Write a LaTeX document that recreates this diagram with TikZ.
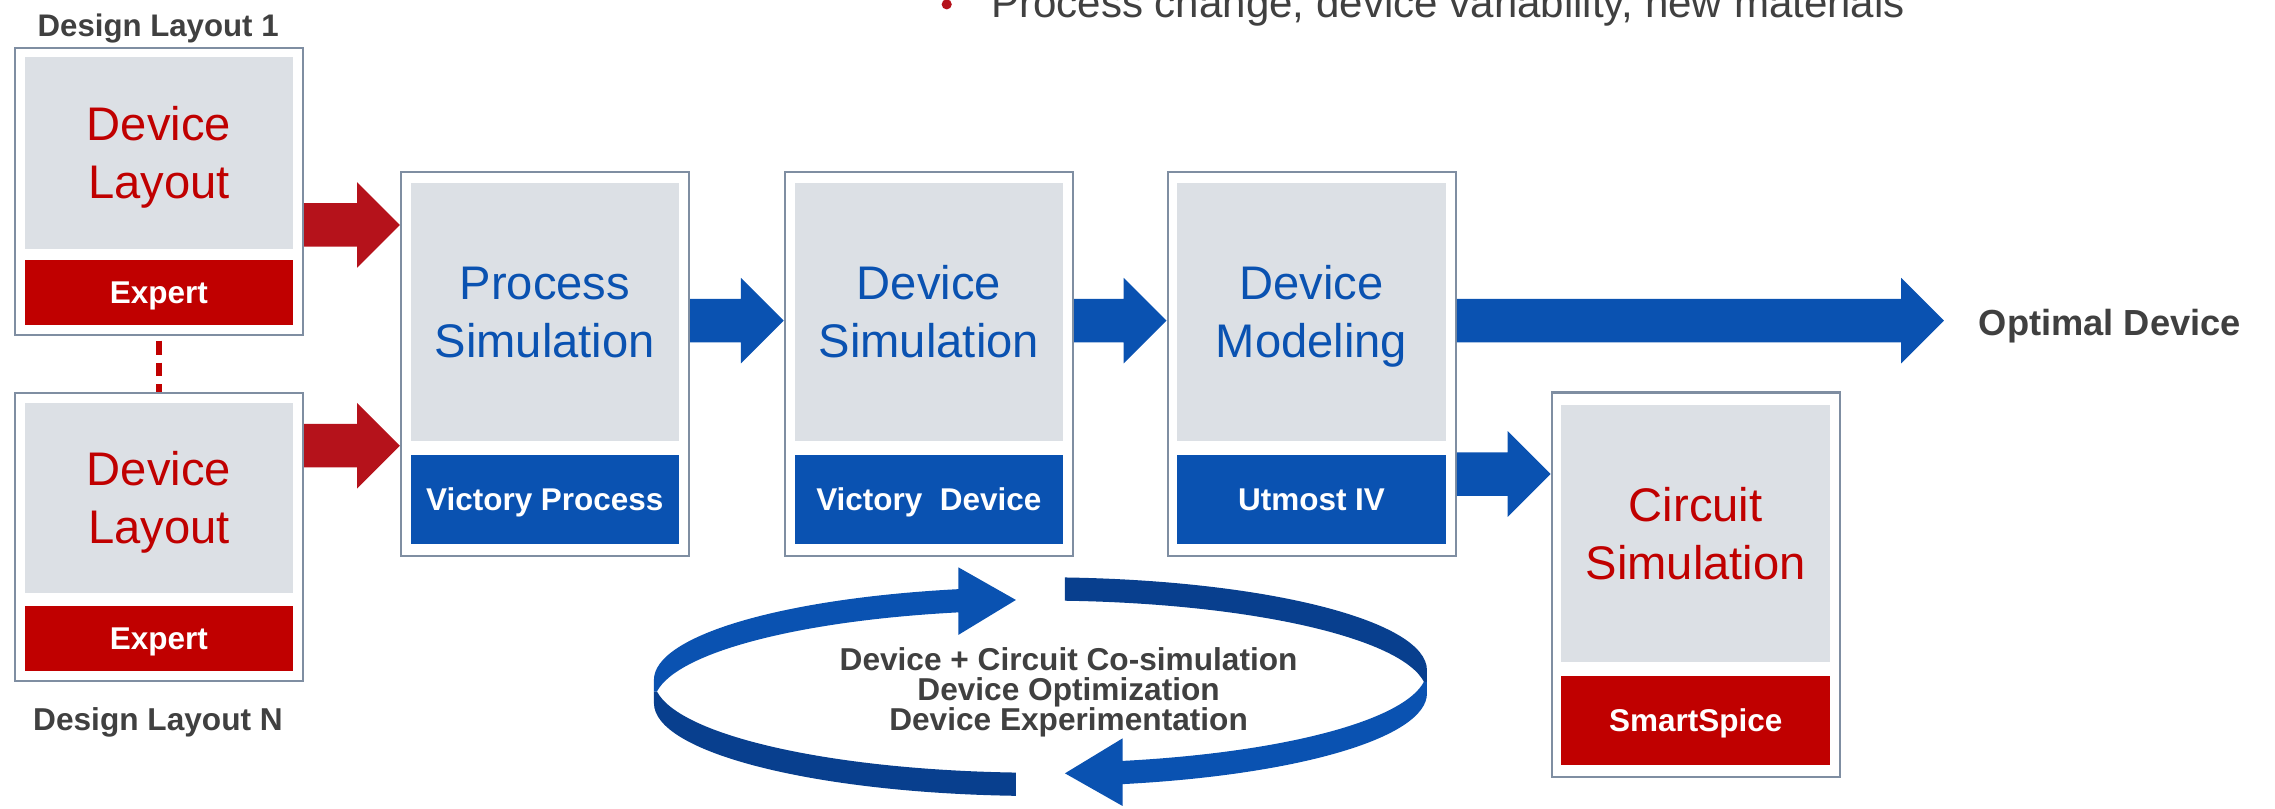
\documentclass[tikz,border=0pt]{standalone}
\usepackage{fontspec}
\setmainfont{Liberation Sans}
\usetikzlibrary{calc}
\definecolor{cred}{HTML}{C00000}
\definecolor{cred2}{HTML}{B5121B}
\definecolor{cblue}{HTML}{0A52B1}
\definecolor{cdark}{HTML}{083F8E}
\definecolor{cgray}{HTML}{DCE0E5}
\definecolor{cborder}{HTML}{7F8EA2}
\definecolor{ctext}{HTML}{404040}
\newcommand\barrow[3]{%
  \fill[#1] let \p1=#2, \p2=#3 in
    (\x1,\y2+15pt) -- (\x2-29.5pt,\y2+15pt) -- (\x2-29.5pt,\y2+29.5pt) -- (\x2,\y2)
    -- (\x2-29.5pt,\y2-29.5pt) -- (\x2-29.5pt,\y2-15pt) -- (\x1,\y2-15pt) -- cycle;}
\newcommand\ringarrow{%
  \fill[cdark] (700.2,548.5) arc[start angle=266.38,end angle=180,x radius=266.3pt,y radius=64pt]
    -- (450.7,476.6) -- (452.8,476.6)
    arc[start angle=187.18,end angle=266.38,x radius=266.3pt,y radius=64pt] -- cycle;
  \fill[cblue] (450.7,476.6) -- (450.7,468.6)
    arc[start angle=180,end angle=102.25,x radius=266.3pt,y radius=64pt]
    -- (660.5,391) -- (700.2,413.5) -- (660.5,437.6) -- (660.5,422.06)
    arc[start angle=102.25,end angle=172.82,x radius=266.3pt,y radius=64pt] -- cycle;}
\begin{document}
\begin{tikzpicture}[x=1pt,y=-1pt,
  obox/.style={draw=cborder,line width=1.5pt,fill=white,minimum width=198.6pt,inner sep=0pt,rectangle},
  gbox/.style={fill=cgray,minimum width=185pt,inner sep=0pt,align=center,
    font=\fontsize{32.5}{40}\selectfont,text height=63.3pt,text depth=0pt},
  lbox/.style={minimum width=185pt,inner sep=0pt,text=white,
    font=\bfseries\fontsize{21.7}{26}\selectfont,text height=15.5pt,text depth=0pt},
  dtext/.style={text=ctext,inner sep=0pt,text depth=0pt}]
\useasboundingbox (0,0) rectangle (1568,557);
\clip (0,0) rectangle (1568,557);

% top bullet line (cut off at the top edge, as in the reference)
\node[circle,fill=cred2,minimum size=7pt,inner sep=0pt] (bul) at (652.5,3) {};
\node[anchor=base west,text=ctext,inner sep=0pt,font=\fontsize{29}{34}\selectfont] (toptxt) at (683,12)
  {Process change, device variability, new materials};

% design layout 1
\node[dtext,font=\bfseries\fontsize{21.5}{25}\selectfont,text height=15.4pt] (dl1) at (109,17.3) {Design Layout 1};
\node[obox,minimum height=198pt] (b1) at (109.6,132) {};
\node[gbox,minimum height=131.8pt,text=cred] (b1g) at (109.5,105.4) {Device\\Layout};
\node[lbox,fill=cred,minimum height=44.7pt] (b1l) at (109.5,201.75) {Expert};

% design layout N
\node[obox,minimum height=198.7pt] (bN) at (109.6,369.95) {};
\node[gbox,minimum height=131.4pt,text=cred] (bNg) at (109.5,343.2) {Device\\Layout};
\node[lbox,fill=cred,minimum height=44.6pt] (bNl) at (109.5,439.9) {Expert};
\node[dtext,font=\bfseries\fontsize{21.8}{25}\selectfont,text height=15.6pt] (dlN) at (108.9,495.6) {Design Layout N};

\draw[cred,line width=4pt,dash pattern=on 9.6pt off 5.5pt] ([yshift=-3pt]b1.south) -- (bN.north);

% process simulation
\node[obox,minimum height=264.9pt] (ps) at (375.65,250.75) {};
\node[gbox,minimum height=177.6pt,text=cblue] (psg) at (375.5,214.9) {Process\\Simulation};
\node[lbox,fill=cblue,minimum height=60.9pt] (psl) at (375.5,344.25) {Victory Process};

% device simulation
\node[obox,minimum height=264.9pt] (ds) at (640.2,250.75) {};
\node[gbox,minimum height=177.6pt,text=cblue] (dsg) at (640.2,214.9) {Device\\Simulation};
\node[lbox,fill=cblue,minimum height=60.9pt] (dsl) at (640.2,344.25) {Victory\ \ Device};

% device modeling
\node[obox,minimum height=264.9pt] (dm) at (904.05,250.75) {};
\node[gbox,minimum height=177.6pt,text=cblue] (dmg) at (903.95,214.9) {Device\\Modeling};
\node[lbox,fill=cblue,minimum height=60.9pt] (dml) at (903.95,344.25) {Utmost IV};

% circuit simulation
\node[obox,minimum height=265.2pt] (cs) at (1168.7,403.1) {};
\node[gbox,minimum height=177pt,text=cred] (csg) at (1168.7,367.7) {Circuit\\Simulation};
\node[lbox,fill=cred,minimum height=61.3pt] (csl) at (1168.7,496.35) {SmartSpice};

% optimal device
\node[dtext,anchor=west,font=\bfseries\fontsize{25}{30}\selectfont,text height=17.9pt] (opt) at (1363.7,222) {Optimal Device};

% block arrows
\coordinate (r1t) at (ps.west |- 0,155);
\coordinate (r2t) at (ps.west |- 0,307.2);
\coordinate (u1t) at (ds.west |- 0,221);
\coordinate (u2t) at (dm.west |- 0,221);
\coordinate (optend) at (1339.8,221);
\coordinate (u4t) at (cs.west |- 0,326.7);
\barrow{cred2}{(b1.east)}{(r1t)}
\barrow{cred2}{(bN.east)}{(r2t)}
\barrow{cblue}{(ps.east)}{(u1t)}
\barrow{cblue}{(ds.east)}{(u2t)}
\barrow{cblue}{(dm.east)}{(optend)}
\barrow{cblue}{(dm.east)}{(u4t)}

% co-simulation cycle
\ringarrow
\begin{scope}[rotate around={180:(717.1,473.25)}]
\ringarrow
\end{scope}
\node[dtext,align=center,font=\bfseries\fontsize{21.8}{20.9}\selectfont,text height=57.4pt] (cyc) at (736.5,474.95)
  {Device + Circuit Co-simulation\\Device Optimization\\Device Experimentation};
\end{tikzpicture}
\end{document}
